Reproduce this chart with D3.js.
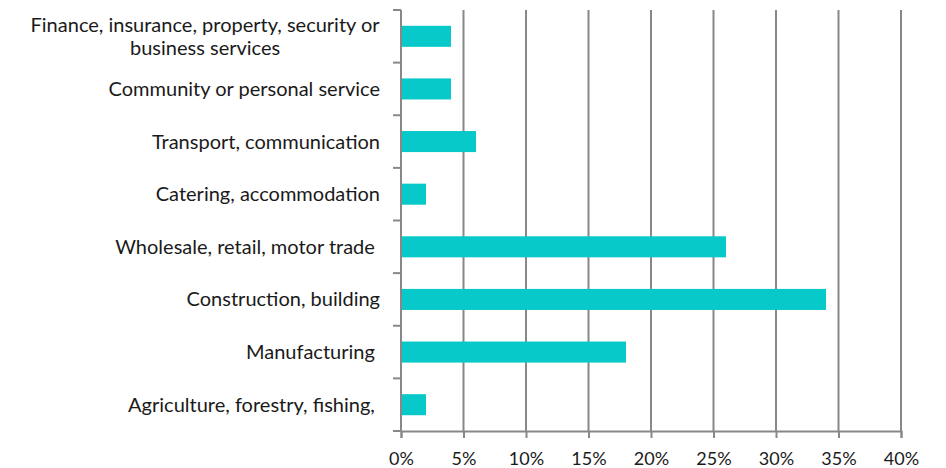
<!DOCTYPE html>
<html>
<head>
<meta charset="utf-8">
<script src="https://cdn.jsdelivr.net/npm/d3@7"></script>
<style>
  body { margin: 0; background: #fff; }
  text { font-family: Lato, "Open Sans", sans-serif; fill: #1a1a1a; }
</style>
</head>
<body>
<svg id="chart" width="946" height="468"></svg>
<script>
// categories top to bottom, trailing spaces kept as in the source labels
var categories = [
    ["Finance, insurance, property, security or", "business services"],
    ["Community or personal service"],
    ["Transport, communication"],
    ["Catering, accommodation"],
    ["Wholesale, retail, motor trade "],
    ["Construction, building"],
    ["Manufacturing "],
    ["Agriculture, forestry, fishing, "]
];
var values = [4, 4, 6, 2, 26, 34, 18, 2];
var xTicks = [0, 5, 10, 15, 20, 25, 30, 35, 40];

// note: "top" is taken by window.top, so plot edges get their own names
var svg = d3.select("#chart"),
    plotLeft = 401, plotRight = 901, plotTop = 10, plotBottom = 431;

var x = d3.scaleLinear().domain([0, 40]).range([plotLeft, plotRight]);
var y = d3.scaleBand().domain(d3.range(categories.length)).range([plotTop, plotBottom])
    .paddingInner(0.6).paddingOuter(0.3);

var axisColor = "#888888";

// vertical gridlines
svg.append("g")
    .selectAll("line")
    .data(xTicks.slice(1))
    .enter().append("line")
    .attr("x1", function (d) { return x(d); })
    .attr("x2", function (d) { return x(d); })
    .attr("y1", plotTop)
    .attr("y2", plotBottom)
    .attr("stroke", axisColor)
    .attr("stroke-width", 2);

// bars
svg.append("g")
    .selectAll("rect")
    .data(values)
    .enter().append("rect")
    .attr("x", x(0))
    .attr("y", function (d, i) { return y(i); })
    .attr("width", function (d) { return x(d) - x(0); })
    .attr("height", y.bandwidth())
    .attr("fill", "#08c9c9");

// bottom axis
var xAxis = d3.axisBottom(x)
    .tickValues(xTicks)
    .tickSize(7)
    .tickFormat(function (d) { return d + "%"; });

var gx = svg.append("g")
    .attr("transform", "translate(0," + plotBottom + ")")
    .call(xAxis);
gx.select(".domain").attr("stroke", axisColor).attr("stroke-width", 2);
gx.selectAll(".tick line").attr("stroke", axisColor).attr("stroke-width", 2);
gx.selectAll(".tick text")
    .attr("y", 20)
    .attr("dy", "0.75em")
    .style("font-size", "18px");

// left axis line with ticks between categories
var step = (plotBottom - plotTop) / categories.length;
svg.append("line")
    .attr("x1", plotLeft).attr("x2", plotLeft)
    .attr("y1", plotTop).attr("y2", plotBottom)
    .attr("stroke", axisColor).attr("stroke-width", 2);
svg.append("g")
    .selectAll("line")
    .data(d3.range(categories.length + 1))
    .enter().append("line")
    .attr("x1", plotLeft - 8).attr("x2", plotLeft)
    .attr("y1", function (d) { return plotTop + d * step; })
    .attr("y2", function (d) { return plotTop + d * step; })
    .attr("stroke", axisColor).attr("stroke-width", 2);

// category labels
var labels = svg.append("g")
    .selectAll("text")
    .data(categories)
    .enter().append("text")
    .attr("text-anchor", "middle")
    .style("font-size", "20px")
    .style("white-space", "pre")
    .attr("y", function (d, i) {
        return y(i) + y.bandwidth() / 2 - (d.length - 1) * 11.5;
    });

labels.each(function (d) {
    var t = d3.select(this);
    d.forEach(function (line, j) {
        t.append("tspan")
            .attr("x", 0)
            .attr("dy", j == 0 ? "0.35em" : "1.15em")
            .text(line);
    });
    // right align the block, center lines inside it (like the source)
    var bb = this.getBBox();
    t.selectAll("tspan").attr("x", plotLeft - 21 - bb.width / 2);
});
</script>
</body>
</html>
